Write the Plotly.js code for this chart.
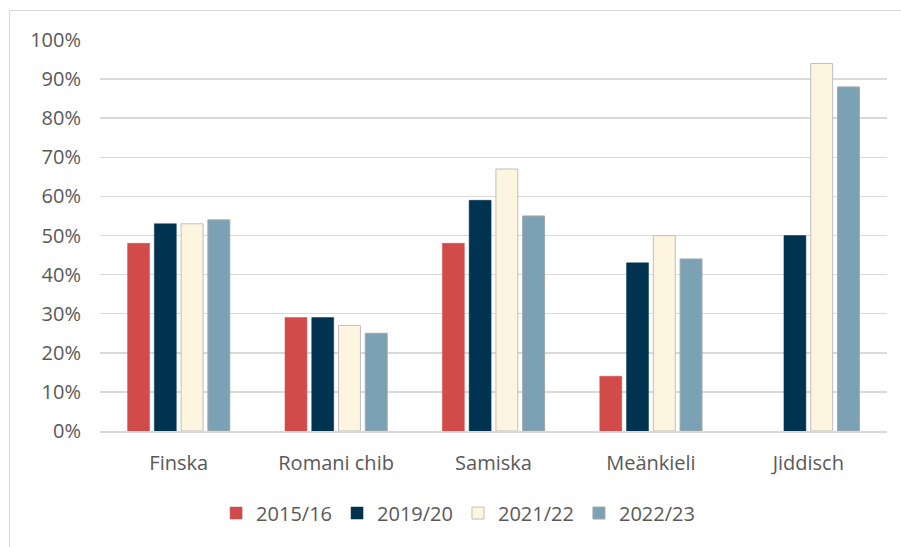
<!DOCTYPE html>
<html><head><meta charset="utf-8">
<script src="https://cdn.plot.ly/plotly-3.0.1.min.js"></script>
<style>
html,body{margin:0;padding:0;background:#fff;overflow:hidden;}
#frame{position:absolute;left:9px;top:10px;width:1000px;height:1000px;border-left:1px solid #d9d9d9;border-top:1px solid #d9d9d9;pointer-events:none;z-index:5;}
#chart{width:901px;height:547px;}
</style></head>
<body>
<div id="frame"></div>
<div id="chart"></div>
<script>
const categories = ["Finska", "Romani chib", "Samiska", "Meänkieli", "Jiddisch"];
const seriesNames = ["2015/16", "2019/20", "2021/22", "2022/23"];
const s2015 = [0.48, 0.29, 0.48, 0.14, null];
const s2019 = [0.53, 0.29, 0.59, 0.43, 0.50];
const s2021 = [0.53, 0.27, 0.67, 0.50, 0.94];
const s2022 = [0.54, 0.25, 0.55, 0.44, 0.88];
const yTickVals = [0,0.1,0.2,0.3,0.4,0.5,0.6,0.7,0.8,0.9,1.0];

const colors = ["#D14B4B", "#003350", "#FDF5E0", "#7BA2B4"];
const lines = ["#D14B4B", "#003350", "#BFBFBF", "#A6A6A6"];
const allSeries = [s2015, s2019, s2021, s2022];

const traces = allSeries.map((vals, i) => ({
  type: "bar",
  name: seriesNames[i],
  x: categories,
  y: vals,
  marker: {color: colors[i], line: {color: lines[i], width: (i >= 2 ? 1 : 0.5)}},
  hoverinfo: "x+y+name"
}));

const font = "'Open Sans', 'Liberation Sans', sans-serif";
const layout = {
  width: 901, height: 547,
  margin: {l: 100, r: 14, t: 40, b: 116},
  paper_bgcolor: "#fff", plot_bgcolor: "#fff",
  barmode: "group",
  bargap: 0.32,
  bargroupgap: 0.18,
  font: {family: font, color: "#595959", size: 20},
  xaxis: {
    showgrid: false, showline: true, linecolor: "#d9d9d9", linewidth: 1.5,
    ticks: "", tickfont: {size: 20, color: "#595959"}, ticklabelstandoff: 13
  },
  yaxis: {
    range: [0, 1.0], tickvals: yTickVals, tickformat: ".0%",
    showgrid: true, gridcolor: "#d9d9d9", gridwidth: 1.5,
    zeroline: false, showline: false, ticks: "",
    tickfont: {size: 20, color: "#595959"}, ticklabelstandoff: 18
  },
  legend: {
    orientation: "h", x: 0.455, xanchor: "center", y: -0.16, yanchor: "top",
    font: {size: 20, color: "#595959"}, traceorder: "normal",
    itemwidth: 30, tracegroupgap: 0
  },
  showlegend: true
};

Plotly.newPlot("chart", traces, layout, {displayModeBar: false, staticPlot: true});
</script>
</body></html>
